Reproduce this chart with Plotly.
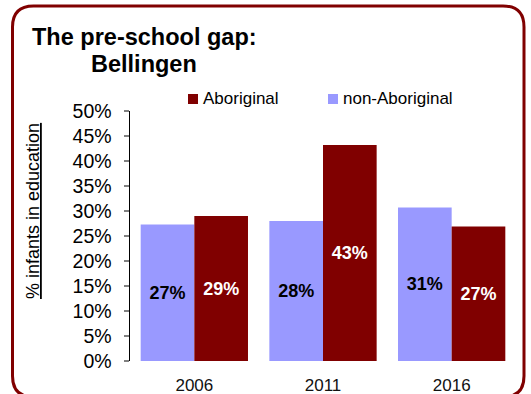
import plotly.graph_objects as go

years = ["2006", "2011", "2016"]
series_names = ["non-Aboriginal", "Aboriginal"]
non_aboriginal = [27.3, 28.0, 30.7]
aboriginal = [29.0, 43.2, 26.9]
y_ticks = [0, 5, 10, 15, 20, 25, 30, 35, 40, 45, 50]
y_tick_labels = [f"{v}%" for v in y_ticks]

W, H = 531, 394
PL, PR, PT, PB = 130, 516, 111, 361  # plot area in pixels
L, R, T, B = PL, W - PR, PT, H - PB
PW, PH = PR - PL, PB - PT


def px(x):
    return (x - PL) / PW


def py(y):
    return (PB - y) / PH


FONT = "Liberation Sans, Arial, sans-serif"
C_ABO = "#800000"
C_NON = "#9999FF"
colors = [C_NON, C_ABO]
text_colors = ["black", "white"]
values = [non_aboriginal, aboriginal]

fig = go.Figure()
for name, vals, col, tcol in zip(series_names, values, colors, text_colors):
    fig.add_trace(go.Bar(
        x=years, y=vals, name=name,
        marker=dict(color=col, line=dict(width=0)),
        texttemplate="%{y:.0f}%", textposition="inside", insidetextanchor="middle",
        textfont=dict(family=FONT, size=18, color=tcol, weight="bold"),
        textangle=0, showlegend=False,
    ))

# legend (Aboriginal first, then non-Aboriginal)
legend_items = [(series_names[1], C_ABO, 188, 201), (series_names[0], C_NON, 328, 341)]
for name, col, sx, tx in legend_items:
    fig.add_shape(type="rect", xref="paper", yref="paper",
                  x0=px(sx), x1=px(sx + 10), y0=py(104), y1=py(94),
                  fillcolor=col, line=dict(width=0))
    fig.add_annotation(text=name, x=px(tx), y=py(99), xref="paper", yref="paper",
                       xanchor="left", yanchor="middle", showarrow=False,
                       font=dict(family=FONT, size=17, color="black"))

# rounded border
x0, x1, y0, y1, r = 12.5, 524, 6, 397, 21
rx, ry = r / PW, r / PH
X0, X1, Y0, Y1 = px(x0), px(x1), py(y0), py(y1)
path = (f"M {X0+rx},{Y0} L {X1-rx},{Y0} Q {X1},{Y0} {X1},{Y0-ry} "
        f"L {X1},{Y1+ry} Q {X1},{Y1} {X1-rx},{Y1} L {X0+rx},{Y1} "
        f"Q {X0},{Y1} {X0},{Y1+ry} L {X0},{Y0-ry} Q {X0},{Y0} {X0+rx},{Y0} Z")
fig.add_shape(type="path", path=path, xref="paper", yref="paper",
              line=dict(color=C_ABO, width=3), layer="above")

fig.add_annotation(text="<b>The pre-school gap:</b>", x=px(144), y=py(37),
                   xref="paper", yref="paper", xanchor="center", yanchor="middle",
                   showarrow=False, font=dict(family=FONT, size=23.5, color="black"))
fig.add_annotation(text="<b>Bellingen</b>", x=px(144), y=py(64),
                   xref="paper", yref="paper", xanchor="center", yanchor="middle",
                   showarrow=False, font=dict(family=FONT, size=23.5, color="black"))
fig.add_annotation(text="<u>% infants in education</u>", x=px(33), y=py(211),
                   xref="paper", yref="paper", xanchor="center", yanchor="middle",
                   textangle=-90, showarrow=False,
                   font=dict(family=FONT, size=18, color="black"))

fig.update_layout(
    width=W, height=H,
    margin=dict(l=L, r=R, t=T, b=B, autoexpand=False),
    paper_bgcolor="white", plot_bgcolor="white",
    font=dict(family=FONT, color="black"),
    barmode="group", bargap=0.166, bargroupgap=0,
    showlegend=False,
    hovermode=False,
    xaxis=dict(showline=False, ticks="", tickfont=dict(size=17, color="#111"),
               ticklabelstandoff=12),
    yaxis=dict(range=[0, 50], tickvals=y_ticks, ticktext=y_tick_labels,
               showgrid=False, zeroline=False, showline=True, linecolor="black",
               linewidth=1.5, ticks="outside", ticklen=5, tickcolor="#808080",
               tickwidth=1.5, tickfont=dict(size=19.5, color="black"),
               ticklabelstandoff=8),
)

fig.write_html("out.html",
               config={"displayModeBar": False, "staticPlot": True},
               post_script="document.body.style.margin='0px';"
                           "document.body.style.overflow='hidden';")
